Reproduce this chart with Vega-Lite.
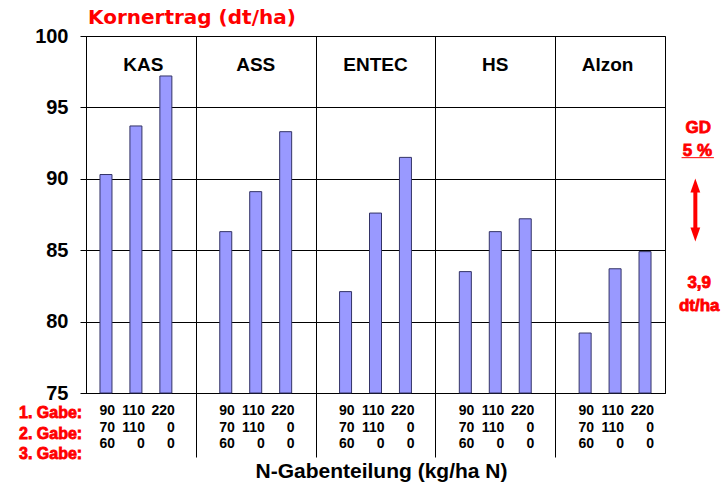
{
  "$schema": "https://vega.github.io/schema/vega-lite/v6.json",
  "width": 579,
  "height": 357,
  "autosize": {"type": "none"},
  "padding": {"left": 86, "top": 36, "right": 63, "bottom": 97},
  "background": "white",
  "title": {
    "text": "Kornertrag  (dt/ha)",
    "anchor": "start",
    "frame": "group",
    "font": "DejaVu Sans",
    "fontSize": 20,
    "fontWeight": "bold",
    "color": "#FF0000",
    "offset": -2,
    "dx": 2
  },
  "config": {
    "view": {"stroke": "black", "strokeWidth": 1},
    "font": "Liberation Sans"
  },
  "datasets": {
    "bars": [
      {"nr": 1, "duenger": "KAS", "ertrag": 90.3, "gabe1": 90, "gabe2": 70, "gabe3": 60},
      {"nr": 2, "duenger": "KAS", "ertrag": 93.7, "gabe1": 110, "gabe2": 110, "gabe3": 0},
      {"nr": 3, "duenger": "KAS", "ertrag": 97.2, "gabe1": 220, "gabe2": 0, "gabe3": 0},
      {"nr": 5, "duenger": "ASS", "ertrag": 86.3, "gabe1": 90, "gabe2": 70, "gabe3": 60},
      {"nr": 6, "duenger": "ASS", "ertrag": 89.1, "gabe1": 110, "gabe2": 110, "gabe3": 0},
      {"nr": 7, "duenger": "ASS", "ertrag": 93.3, "gabe1": 220, "gabe2": 0, "gabe3": 0},
      {"nr": 9, "duenger": "ENTEC", "ertrag": 82.1, "gabe1": 90, "gabe2": 70, "gabe3": 60},
      {"nr": 10, "duenger": "ENTEC", "ertrag": 87.6, "gabe1": 110, "gabe2": 110, "gabe3": 0},
      {"nr": 11, "duenger": "ENTEC", "ertrag": 91.5, "gabe1": 220, "gabe2": 0, "gabe3": 0},
      {"nr": 13, "duenger": "HS", "ertrag": 83.5, "gabe1": 90, "gabe2": 70, "gabe3": 60},
      {"nr": 14, "duenger": "HS", "ertrag": 86.3, "gabe1": 110, "gabe2": 110, "gabe3": 0},
      {"nr": 15, "duenger": "HS", "ertrag": 87.2, "gabe1": 220, "gabe2": 0, "gabe3": 0},
      {"nr": 17, "duenger": "Alzon", "ertrag": 79.2, "gabe1": 90, "gabe2": 70, "gabe3": 60},
      {"nr": 18, "duenger": "Alzon", "ertrag": 83.7, "gabe1": 110, "gabe2": 110, "gabe3": 0},
      {"nr": 19, "duenger": "Alzon", "ertrag": 84.9, "gabe1": 220, "gabe2": 0, "gabe3": 0}
    ],
    "groups": [
      {"duenger": "KAS", "mitte": 2.25},
      {"duenger": "ASS", "mitte": 6},
      {"duenger": "ENTEC", "mitte": 10},
      {"duenger": "HS", "mitte": 14},
      {"duenger": "Alzon", "mitte": 17.75}
    ],
    "one": [{}]
  },
  "layer": [
    {
      "data": {"name": "bars"},
      "mark": {"type": "bar", "size": 12, "fill": "#9999FF", "stroke": "#333366", "strokeWidth": 1},
      "encoding": {
        "x": {
          "field": "nr", "type": "quantitative",
          "scale": {"domain": [0.5, 19.5], "nice": false, "zero": false},
          "axis": {
            "values": [4, 8, 12, 16],
            "grid": true, "gridColor": "black", "gridOpacity": 1, "gridWidth": 1,
            "labels": false,
            "ticks": true, "tickSize": 64, "tickColor": "black", "tickWidth": 1,
            "domain": true, "domainColor": "black", "domainWidth": 1,
            "title": "N-Gabenteilung (kg/ha N)",
            "titleFont": "Liberation Sans", "titleFontSize": 21, "titleFontWeight": "bold",
            "titleColor": "black", "titlePadding": 3, "titleX": 295
          }
        },
        "y": {
          "field": "ertrag", "type": "quantitative",
          "scale": {"domain": [75, 100], "nice": false, "zero": false},
          "axis": {
            "values": [75, 80, 85, 90, 95, 100],
            "grid": true, "gridColor": "black", "gridOpacity": 1, "gridWidth": 1,
            "ticks": true, "tickSize": 6, "tickColor": "black",
            "domain": true, "domainColor": "black",
            "labelFont": "Liberation Sans", "labelFontSize": 20, "labelFontWeight": "bold",
            "labelColor": "black", "labelPadding": 12, "labelOverlap": false, "labelFlush": false,
            "title": null
          }
        },
        "y2": {"datum": 75}
      }
    },
    {
      "data": {"name": "groups"},
      "mark": {"type": "text", "align": "center", "baseline": "middle", "fontSize": 19, "fontWeight": "bold", "color": "black"},
      "encoding": {
        "x": {"field": "mitte", "type": "quantitative"},
        "y": {"datum": 98.0, "type": "quantitative"},
        "text": {"field": "duenger"}
      }
    },
    {
      "data": {"name": "bars"},
      "mark": {"type": "text", "align": "right", "dx": 9, "baseline": "middle", "fontSize": 14, "fontWeight": "bold", "color": "black"},
      "encoding": {
        "x": {"field": "nr", "type": "quantitative"},
        "y": {"datum": 73.74, "type": "quantitative"},
        "text": {"field": "gabe1"}
      }
    },
    {
      "data": {"name": "bars"},
      "mark": {"type": "text", "align": "right", "dx": 9, "baseline": "middle", "fontSize": 14, "fontWeight": "bold", "color": "black"},
      "encoding": {
        "x": {"field": "nr", "type": "quantitative"},
        "y": {"datum": 72.55, "type": "quantitative"},
        "text": {"field": "gabe2"}
      }
    },
    {
      "data": {"name": "bars"},
      "mark": {"type": "text", "align": "right", "dx": 9, "baseline": "middle", "fontSize": 14, "fontWeight": "bold", "color": "black"},
      "encoding": {
        "x": {"field": "nr", "type": "quantitative"},
        "y": {"datum": 71.43, "type": "quantitative"},
        "text": {"field": "gabe3"}
      }
    },
    {
      "data": {"name": "one"},
      "mark": {"type": "text", "align": "right", "baseline": "middle", "fontSize": 16, "fontWeight": "bold", "color": "#FF0000", "stroke": "#FF0000", "strokeWidth": 0.8},
      "encoding": {
        "x": {"datum": 0.205, "type": "quantitative"},
        "y": {"datum": 73.6, "type": "quantitative"},
        "text": {"value": "1. Gabe:"}
      }
    },
    {
      "data": {"name": "one"},
      "mark": {"type": "text", "align": "right", "baseline": "middle", "fontSize": 16, "fontWeight": "bold", "color": "#FF0000", "stroke": "#FF0000", "strokeWidth": 0.8},
      "encoding": {
        "x": {"datum": 0.205, "type": "quantitative"},
        "y": {"datum": 72.13, "type": "quantitative"},
        "text": {"value": "2. Gabe:"}
      }
    },
    {
      "data": {"name": "one"},
      "mark": {"type": "text", "align": "right", "baseline": "middle", "fontSize": 16, "fontWeight": "bold", "color": "#FF0000", "stroke": "#FF0000", "strokeWidth": 0.8},
      "encoding": {
        "x": {"datum": 0.205, "type": "quantitative"},
        "y": {"datum": 70.73, "type": "quantitative"},
        "text": {"value": "3. Gabe:"}
      }
    },
    {
      "data": {"name": "one"},
      "mark": {"type": "text", "align": "center", "baseline": "middle", "fontSize": 17, "fontWeight": "bold", "color": "#FF0000", "stroke": "#FF0000", "strokeWidth": 0.8},
      "encoding": {
        "x": {"datum": 20.78, "type": "quantitative"},
        "y": {"datum": 93.56, "type": "quantitative"},
        "text": {"value": "GD"}
      }
    },
    {
      "data": {"name": "one"},
      "mark": {"type": "text", "align": "center", "baseline": "middle", "fontSize": 17, "fontWeight": "bold", "color": "#FF0000", "stroke": "#FF0000", "strokeWidth": 0.8},
      "encoding": {
        "x": {"datum": 20.75, "type": "quantitative"},
        "y": {"datum": 91.97, "type": "quantitative"},
        "text": {"value": "5 %"}
      }
    },
    {
      "data": {"name": "one"},
      "mark": {"type": "rule", "color": "#FF0000", "strokeWidth": 1},
      "encoding": {
        "x": {"datum": 20.22, "type": "quantitative"},
        "x2": {"datum": 21.3},
        "y": {"datum": 91.48, "type": "quantitative"}
      }
    },
    {
      "data": {"name": "one"},
      "mark": {"type": "rule", "color": "#FF0000", "strokeWidth": 4},
      "encoding": {
        "x": {"datum": 20.68, "type": "quantitative"},
        "y": {"datum": 89.22, "type": "quantitative"},
        "y2": {"datum": 86.41}
      }
    },
    {
      "data": {"name": "one"},
      "mark": {"type": "point", "shape": "M-0.7,1L0.7,1L0,-1Z", "size": 196, "filled": true, "color": "#FF0000", "opacity": 1},
      "encoding": {
        "x": {"datum": 20.68, "type": "quantitative"},
        "y": {"datum": 89.53, "type": "quantitative"}
      }
    },
    {
      "data": {"name": "one"},
      "mark": {"type": "point", "shape": "M-0.7,-1L0.7,-1L0,1Z", "size": 196, "filled": true, "color": "#FF0000", "opacity": 1},
      "encoding": {
        "x": {"datum": 20.68, "type": "quantitative"},
        "y": {"datum": 86.1, "type": "quantitative"}
      }
    },
    {
      "data": {"name": "one"},
      "mark": {"type": "text", "align": "center", "baseline": "middle", "fontSize": 17, "fontWeight": "bold", "color": "#FF0000", "stroke": "#FF0000", "strokeWidth": 0.8},
      "encoding": {
        "x": {"datum": 20.81, "type": "quantitative"},
        "y": {"datum": 82.72, "type": "quantitative"},
        "text": {"value": "3,9"}
      }
    },
    {
      "data": {"name": "one"},
      "mark": {"type": "text", "align": "center", "baseline": "middle", "fontSize": 17, "fontWeight": "bold", "color": "#FF0000", "stroke": "#FF0000", "strokeWidth": 0.8},
      "encoding": {
        "x": {"datum": 20.81, "type": "quantitative"},
        "y": {"datum": 81.11, "type": "quantitative"},
        "text": {"value": "dt/ha"}
      }
    }
  ]
}
